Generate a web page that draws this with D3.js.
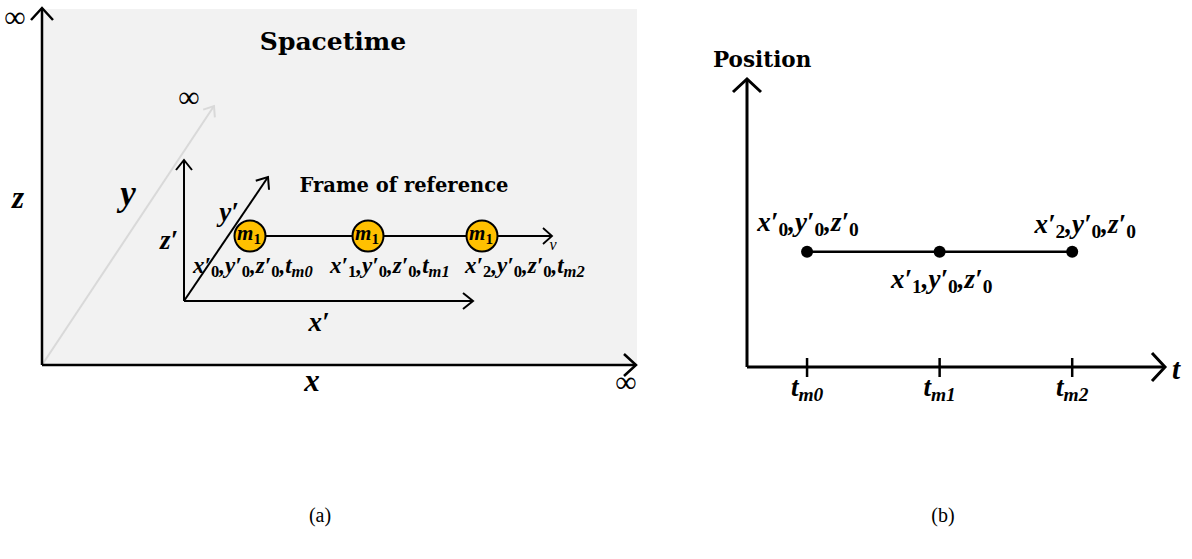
<!DOCTYPE html>
<html>
<head>
<meta charset="utf-8">
<script src="https://cdn.jsdelivr.net/npm/d3@7"></script>
<style>
    body { margin: 0; background: #fff; }
    .math { font-family: "Liberation Serif", "Times New Roman", serif; font-style: italic; font-weight: bold; fill: #000; }
    .title { font-family: "DejaVu Serif", serif; font-weight: bold; fill: #000; }
    .caption { font-family: "Liberation Serif", "Times New Roman", serif; fill: #000; }
</style>
</head>
<body>
<svg id="chart"></svg>
<script>
// Data
const framePositions = [0.66, 1.84, 2.98];        // x' position of m1 in the frame (arbitrary units)
const timeValues = [1, 2, 3];                      // t_m0, t_m1, t_m2
const timeLabels = ['t_{m0}', 't_{m1}', 't_{m2}'];
const positionValues = [0.4, 0.4, 0.4];            // position stays constant in the frame
const frameLabels = ['x′_0,y′_0,z′_0,t_{m0}', 'x′_1,y′_0,z′_0,t_{m1}', 'x′_2,y′_0,z′_0,t_{m2}'];
const pointLabels = ['x′_0,y′_0,z′_0', 'x′_1,y′_0,z′_0', 'x′_2,y′_0,z′_0'];

// Layout
const config = {
    width: 1192,
    height: 559,
    space: { x0: 42, y0: 365, top: 9, right: 637 },
    frame: { x0: 184, y0: 301, ballY: 236, ballR: 15.5 },
    plot: { x0: 747, y0: 367, top: 79, right: 1165 },
    gold: '#FFC000',
    bg: '#F2F2F2',
    ghost: '#D9D9D9'
};

const svg = d3.select('#chart')
    .attr('width', config.width)
    .attr('height', config.height);

// Helper: line with an open chevron head
function arrow(g, x1, y1, x2, y2, opt) {
    const o = Object.assign({ color: '#000', width: 2, head: 10, half: 8 }, opt);
    g.append('line')
        .attr('x1', x1).attr('y1', y1).attr('x2', x2).attr('y2', y2)
        .attr('stroke', o.color).attr('stroke-width', o.width);
    const a = Math.atan2(y2 - y1, x2 - x1);
    const c = Math.cos(a), s = Math.sin(a);
    const pts = [
        [x2 - o.head * c + o.half * s, y2 - o.head * s - o.half * c],
        [x2, y2],
        [x2 - o.head * c - o.half * s, y2 - o.head * s + o.half * c]
    ];
    g.append('path')
        .attr('d', d3.line()(pts))
        .attr('fill', 'none')
        .attr('stroke', o.color)
        .attr('stroke-width', o.width);
}

// Helper: tiny TeX-like text, "_x" or "_{..}" become subscripts
function mathText(g, str, x, y, size, anchor) {
    const parts = [];
    let buf = '', i = 0;
    while (i < str.length) {
        if (str[i] === '_') {
            if (buf) parts.push({ t: buf });
            buf = '';
            i++;
            let sub;
            if (str[i] === '{') {
                const j = str.indexOf('}', i);
                sub = str.slice(i + 1, j);
                i = j + 1;
            } else {
                sub = str[i];
                i++;
            }
            parts.push({ t: sub, sub: true });
        } else {
            buf += str[i];
            i++;
        }
    }
    if (buf) parts.push({ t: buf });

    const text = g.append('text')
        .attr('class', 'math')
        .attr('x', x).attr('y', y)
        .attr('font-size', size)
        .attr('text-anchor', anchor || 'start');
    let inSub = false;
    parts.forEach(p => {
        const ts = text.append('tspan').text(p.t);
        if (p.sub) {
            ts.attr('font-size', size * 0.72);
            if (/^\d$/.test(p.t)) ts.attr('font-style', 'normal');
            if (!inSub) ts.attr('dy', size * 0.18);
            inSub = true;
        } else {
            if (inSub) ts.attr('dy', -size * 0.18);
            inSub = false;
        }
    });
    return text;
}

// ---------- (a) Spacetime ----------
const left = svg.append('g').attr('class', 'spacetime');
const sp = config.space;

left.append('rect')
    .attr('x', sp.x0).attr('y', sp.top)
    .attr('width', sp.right - sp.x0).attr('height', sp.y0 - sp.top)
    .attr('fill', config.bg);

arrow(left, sp.x0, sp.y0, 214, 106, { color: config.ghost, width: 2, head: 9, half: 7 });
arrow(left, sp.x0, sp.y0, sp.x0, 8, { width: 2.5, head: 12, half: 11 });
arrow(left, sp.x0, sp.y0, 636, sp.y0, { width: 2.5, head: 12, half: 11 });

[[15, 27], [189, 107], [626, 392]].forEach(p => {
    left.append('text').attr('class', 'caption').attr('x', p[0]).attr('y', p[1])
        .attr('font-size', 30).attr('text-anchor', 'middle').text('∞');
});

mathText(left, 'z', 18, 208, 31, 'middle');
mathText(left, 'y', 128, 205, 35, 'middle');
mathText(left, 'x', 312, 391, 31, 'middle');

left.append('text').attr('class', 'title')
    .attr('x', 333).attr('y', 50)
    .attr('font-size', 25).attr('text-anchor', 'middle')
    .text('Spacetime');

// Frame of reference
const fr = config.frame;
const xPrime = d3.scaleLinear().domain([0, 1]).range([fr.x0, fr.x0 + 100]);

arrow(left, fr.x0, fr.y0, fr.x0, 160, { width: 2, head: 10, half: 8 });
arrow(left, fr.x0, fr.y0, 268, 177, { width: 2, head: 10, half: 8 });
arrow(left, fr.x0, fr.y0, 473, fr.y0, { width: 2, head: 10, half: 8 });

mathText(left, 'z′', 169, 249, 27, 'middle');
mathText(left, 'y′', 229, 221, 27, 'middle');
mathText(left, 'x′', 319, 331, 27, 'middle');

left.append('text').attr('class', 'title')
    .attr('x', 404).attr('y', 192)
    .attr('font-size', 19.5).attr('text-anchor', 'middle')
    .text('Frame of reference');

arrow(left, xPrime(framePositions[0]), fr.ballY, 552, fr.ballY, { width: 1.8, head: 9, half: 8 });
left.append('text').attr('class', 'caption')
    .attr('x', 553).attr('y', 250).attr('font-size', 16).attr('font-style', 'italic')
    .attr('text-anchor', 'middle').text('v');

const balls = left.selectAll('.ball')
    .data(framePositions)
    .enter()
    .append('g')
    .attr('class', 'ball')
    .attr('transform', d => `translate(${xPrime(d)}, ${fr.ballY})`);

balls.append('circle')
    .attr('r', fr.ballR)
    .attr('fill', config.gold)
    .attr('stroke', '#000')
    .attr('stroke-width', 2);

balls.each(function () {
    mathText(d3.select(this), 'm_1', -1, 4, 21, 'middle');
});

// coordinate labels under each ball (shifted left progressively as in the figure)
const labelShift = [-57, -38, -17];
frameLabels.forEach((lbl, i) => {
    mathText(left, lbl, xPrime(framePositions[i]) + labelShift[i], 273, 23, 'start');
});

// ---------- (b) Position vs time ----------
const right = svg.append('g').attr('class', 'position');
const pl = config.plot;

const x = d3.scaleLinear().domain([0.547, 3.7]).range([pl.x0, pl.right]);
const y = d3.scaleLinear().domain([0, 1]).range([pl.y0, pl.top]);

arrow(right, pl.x0, pl.y0, pl.x0, pl.top, { width: 3, head: 13, half: 14 });
arrow(right, pl.x0, pl.y0, pl.right, pl.y0, { width: 3, head: 13, half: 14 });

right.append('text').attr('class', 'title')
    .attr('x', 713).attr('y', 67)
    .attr('font-size', 21.5)
    .text('Position');

mathText(right, 't', 1172, 379, 29, 'start');

right.selectAll('.tick')
    .data(timeValues)
    .enter()
    .append('line')
    .attr('class', 'tick')
    .attr('x1', d => x(d)).attr('x2', d => x(d))
    .attr('y1', pl.y0 - 9).attr('y2', pl.y0 + 10)
    .attr('stroke', '#000').attr('stroke-width', 2.5);

timeValues.forEach((t, i) => {
    mathText(right, timeLabels[i], x(t), 396, 27, 'middle');
});

const pts = timeValues.map((t, i) => [x(t), y(positionValues[i])]);

right.append('path')
    .attr('d', d3.line()(pts))
    .attr('fill', 'none')
    .attr('stroke', '#000')
    .attr('stroke-width', 2.5);

right.selectAll('.pt')
    .data(pts)
    .enter()
    .append('circle')
    .attr('class', 'pt')
    .attr('cx', d => d[0]).attr('cy', d => d[1])
    .attr('r', 6)
    .attr('fill', '#000');

// label above / below / above
const labelDy = [-21, 36, -19];
const labelDx = [1, 2, 13];
pointLabels.forEach((lbl, i) => {
    mathText(right, lbl, pts[i][0] + labelDx[i], pts[i][1] + labelDy[i], 27, 'middle');
});

// ---------- captions ----------
svg.append('text').attr('class', 'caption')
    .attr('x', 320).attr('y', 522).attr('font-size', 20)
    .attr('text-anchor', 'middle').text('(a)');
svg.append('text').attr('class', 'caption')
    .attr('x', 943).attr('y', 522).attr('font-size', 20)
    .attr('text-anchor', 'middle').text('(b)');
</script>
</body>
</html>
